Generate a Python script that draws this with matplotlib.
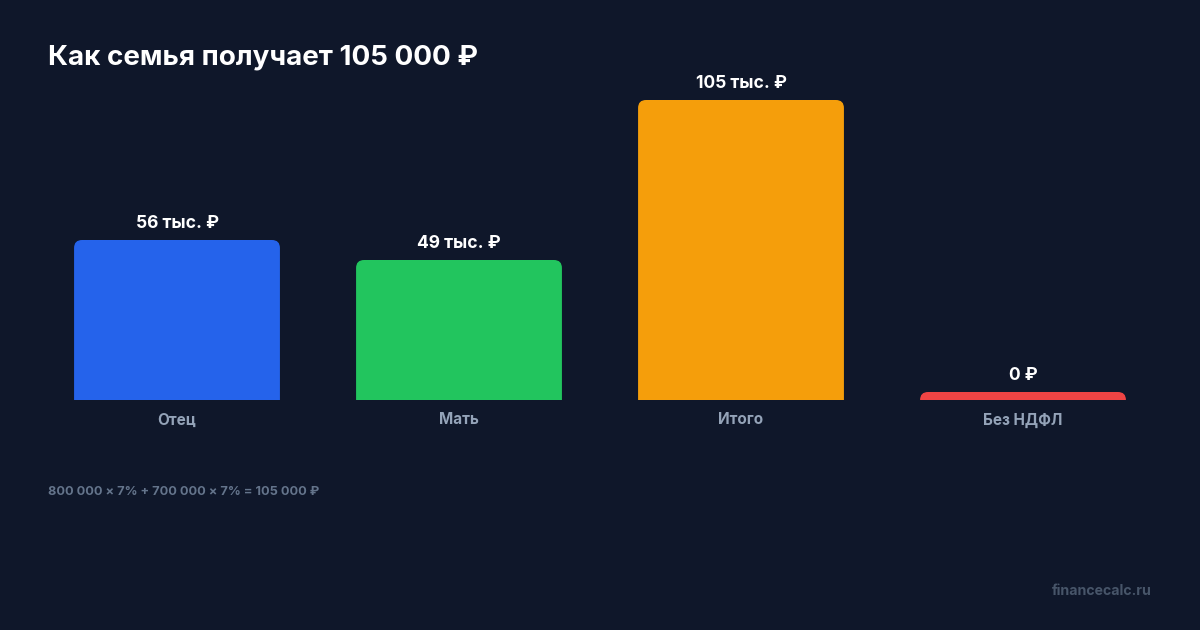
import matplotlib.pyplot as plt
import matplotlib.path as mpath
import matplotlib.patches as mpatches
import numpy as np

plt.rcParams['font.family'] = ['Inter', 'DejaVu Sans']

categories = ['Отец', 'Мать', 'Итого', 'Без НДФЛ']
values = [56, 49, 105, 0]
value_labels = ['56 тыс. ₽', '49 тыс. ₽', '105 тыс. ₽', '0 ₽']
colors = ['#2563eb', '#22c55e', '#f59e0b', '#ef4444']

title = 'Как семья получает 105 000 ₽'
note = '800 000 × 7% + 700 000 × 7% = 105 000 ₽'
site = 'financecalc.ru'

bg = '#0f172a'
W, H = 1200, 630

fig = plt.figure(figsize=(12, 6.3), dpi=100, facecolor=bg)
ax = fig.add_axes([36 / W, 1 - 400 / H, 1128 / W, 300 / H])
ax.set_facecolor(bg)
ax.set_xlim(-0.5, len(categories) - 0.5)
ax.set_ylim(0, max(values))
ax.axis('off')

# pixel scale for rounded corners
px_x = 1128 / len(categories)
px_y = 300 / max(values)
radius = 8
min_px = 8
width = 0.73


def rounded_bar(x, h, color):
    x0, x1 = x - width / 2, x + width / 2
    rx = radius / px_x
    ry = min(radius / px_y, h)
    verts = [(x0, 0), (x0, h - ry), (x0, h), (x0 + rx, h),
             (x1 - rx, h), (x1, h), (x1, h - ry), (x1, 0), (x0, 0)]
    codes = [mpath.Path.MOVETO, mpath.Path.LINETO, mpath.Path.CURVE3, mpath.Path.CURVE3,
             mpath.Path.LINETO, mpath.Path.CURVE3, mpath.Path.CURVE3, mpath.Path.LINETO,
             mpath.Path.CLOSEPOLY]
    ax.add_patch(mpatches.PathPatch(mpath.Path(verts, codes), facecolor=color,
                                    edgecolor='none', clip_on=False))


for i, (v, lab, c) in enumerate(zip(values, value_labels, colors)):
    h = max(v, min_px / px_y)
    rounded_bar(i, h, c)
    ax.annotate(lab, (i, h), xytext=(0, 17), textcoords='offset pixels',
                ha='center', va='center', color='white', fontsize=12.6,
                fontweight='bold', annotation_clip=False)
    ax.annotate(categories[i], (i, 0), xytext=(0, -20), textcoords='offset pixels',
                ha='center', va='center', color='#94a3b8', fontsize=11,
                fontweight='bold', annotation_clip=False)

fig.text(48 / W, 1 - 58 / H, title, color='white', fontsize=20,
         fontweight='bold', ha='left', va='center')
fig.text(48 / W, 1 - 492 / H, note, color='#64748b', fontsize=9.2,
         fontweight='bold', ha='left', va='center')
fig.text(1152 / W, 1 - 591 / H, site, color='#475569', fontsize=10.2,
         fontweight='bold', ha='right', va='center')

fig.savefig('out.png', dpi=100, facecolor=bg)
